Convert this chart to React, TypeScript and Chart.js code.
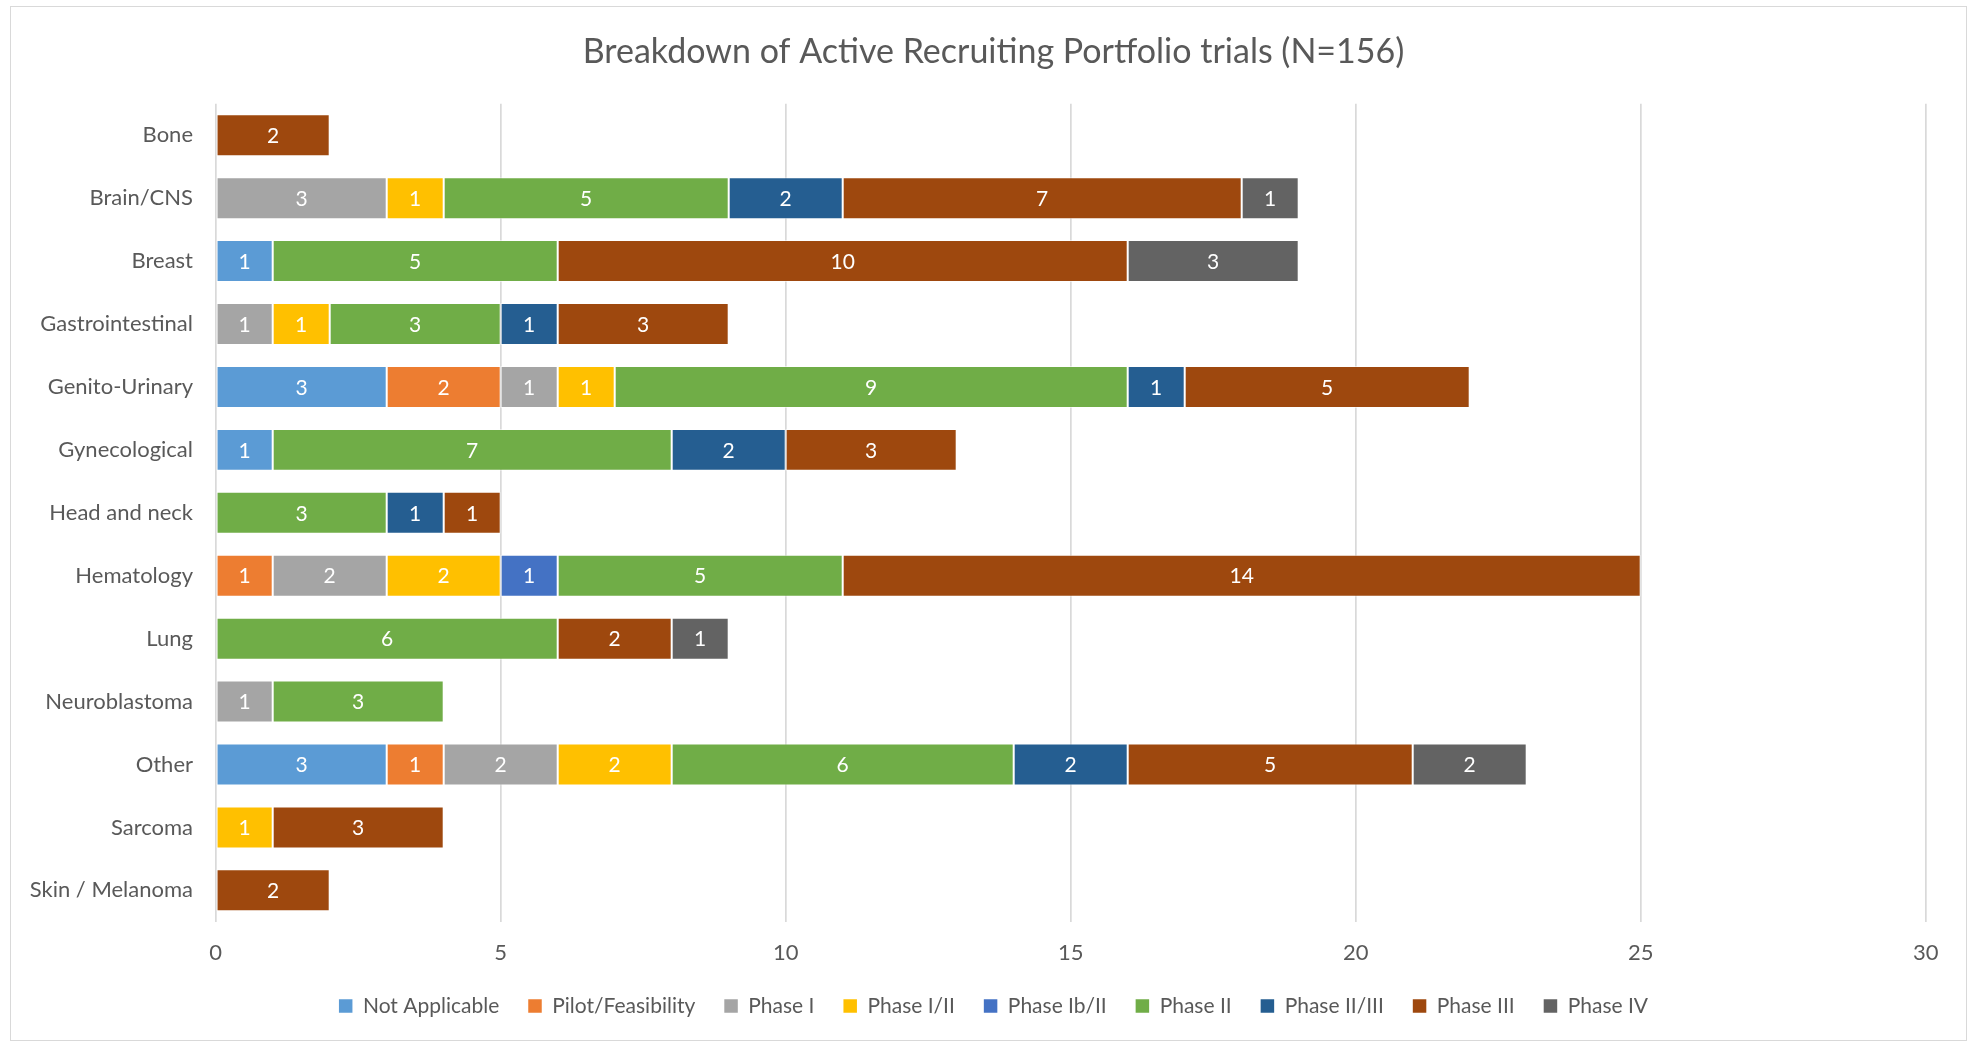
import React, { useEffect, useRef } from "react";
import { Chart, registerables } from "chart.js";

Chart.register(...registerables);

const title = "Breakdown of Active Recruiting Portfolio trials (N=156)";

const categories = [
  "Bone",
  "Brain/CNS",
  "Breast",
  "Gastrointestinal",
  "Genito-Urinary",
  "Gynecological",
  "Head and neck",
  "Hematology",
  "Lung",
  "Neuroblastoma",
  "Other",
  "Sarcoma",
  "Skin / Melanoma",
];

const seriesNames = [
  "Not Applicable",
  "Pilot/Feasibility",
  "Phase I",
  "Phase I/II",
  "Phase Ib/II",
  "Phase II",
  "Phase II/III",
  "Phase III",
  "Phase IV",
];

const notApplicable = [null, null, 1, null, 3, 1, null, null, null, null, 3, null, null];
const pilotFeasibility = [null, null, null, null, 2, null, null, 1, null, null, 1, null, null];
const phaseI = [null, 3, null, 1, 1, null, null, 2, null, 1, 2, null, null];
const phaseI_II = [null, 1, null, 1, 1, null, null, 2, null, null, 2, 1, null];
const phaseIb_II = [null, null, null, null, null, null, null, 1, null, null, null, null, null];
const phaseII = [null, 5, 5, 3, 9, 7, 3, 5, 6, 3, 6, null, null];
const phaseII_III = [null, 2, null, 1, 1, 2, 1, null, null, null, 2, null, null];
const phaseIII = [2, 7, 10, 3, 5, 3, 1, 14, 2, null, 5, 3, 2];
const phaseIV = [null, 1, 3, null, null, null, null, null, 1, null, 2, null, null];

const seriesValues = [
  notApplicable,
  pilotFeasibility,
  phaseI,
  phaseI_II,
  phaseIb_II,
  phaseII,
  phaseII_III,
  phaseIII,
  phaseIV,
];

const seriesColors = [
  "#5B9BD5",
  "#ED7D31",
  "#A5A5A5",
  "#FFC000",
  "#4472C4",
  "#70AD47",
  "#255E91",
  "#9E480E",
  "#636363",
];

const xTicks = [0, 5, 10, 15, 20, 25, 30];

const FONT = "Lato, 'Open Sans', sans-serif";
const TEXT = "#595959";

const dataLabelPlugin = {
  id: "dataLabels",
  afterDatasetsDraw(chart: any) {
    const ctx = chart.ctx;
    ctx.save();
    ctx.fillStyle = "#FFFFFF";
    ctx.font = `21px ${FONT}`;
    ctx.textAlign = "center";
    ctx.textBaseline = "middle";
    chart.data.datasets.forEach((ds: any, di: number) => {
      const meta = chart.getDatasetMeta(di);
      if (meta.hidden) return;
      meta.data.forEach((el: any, i: number) => {
        const v = ds.data[i];
        if (v === null || v === undefined || v === 0) return;
        const props = el.getProps(["x", "y", "base"], true);
        const cx = (props.x + props.base) / 2;
        ctx.fillText(String(v), cx, props.y + 1);
      });
    });
    ctx.restore();
  },
};

export default function App() {
  const canvasRef = useRef<HTMLCanvasElement | null>(null);

  useEffect(() => {
    if (!canvasRef.current) return;
    const chart = new Chart(canvasRef.current, {
      type: "bar",
      data: {
        labels: categories,
        datasets: seriesNames.map((name, i) => ({
          label: name,
          data: seriesValues[i],
          backgroundColor: seriesColors[i],
          borderColor: "rgba(255,255,255,0.55)",
          borderWidth: 1,
          borderSkipped: false,
          barPercentage: 0.667,
          categoryPercentage: 1,
        })),
      },
      options: {
        indexAxis: "y",
        animation: false,
        responsive: false,
        maintainAspectRatio: false,
        layout: { padding: { left: 10, right: 0, top: 0, bottom: 13.5 } },
        scales: {
          x: {
            stacked: true,
            min: 0,
            max: 30,
            afterBuildTicks(axis: any) {
              axis.ticks = xTicks.map((v) => ({ value: v }));
            },
            afterFit(axis: any) {
              axis.height = 44.7;
            },
            grid: {
              color: "#D9D9D9",
              lineWidth: 1.7,
              drawTicks: false,
            },
            border: { display: false },
            ticks: {
              color: TEXT,
              font: { family: FONT, size: 22 },
              padding: 18,
            },
          },
          y: {
            stacked: true,
            grid: { display: false, drawTicks: false },
            border: { display: false },
            afterFit(axis: any) {
              axis.width = 194.7;
            },
            ticks: {
              color: TEXT,
              font: { family: FONT, size: 22 },
              padding: 22.7,
            },
          },
          rightSpacer: {
            type: "linear",
            axis: "y",
            position: "right",
            display: true,
            grid: { display: false, drawTicks: false },
            border: { display: false },
            ticks: { display: false },
            afterFit(axis: any) {
              axis.width = 40.3;
            },
          },
        },
        plugins: {
          title: {
            display: true,
            text: title,
            color: TEXT,
            font: { family: FONT, size: 34, weight: "normal" },
            padding: { top: 24.3, bottom: 31.7 },
          },
          legend: {
            display: true,
            position: "bottom",
            labels: {
              color: TEXT,
              font: { family: FONT, size: 21 },
              boxWidth: 13.5,
              boxHeight: 13.5,
              padding: 29,
              generateLabels(chart: any) {
                const items = Chart.defaults.plugins.legend.labels.generateLabels(chart);
                return items.map((it: any) => ({ ...it, lineWidth: 0, strokeStyle: "transparent" }));
              },
            },
          },
          tooltip: { enabled: false },
        },
      },
      plugins: [dataLabelPlugin],
    });
    return () => chart.destroy();
  }, []);

  return (
    <div
      style={{
        position: "absolute",
        left: 10,
        top: 6,
        width: 1955,
        height: 1033,
        border: "1px solid #D9D9D9",
        background: "#FFFFFF",
      }}
    >
      <canvas ref={canvasRef} width={1955} height={1033} style={{ display: "block" }} />
    </div>
  );
}
